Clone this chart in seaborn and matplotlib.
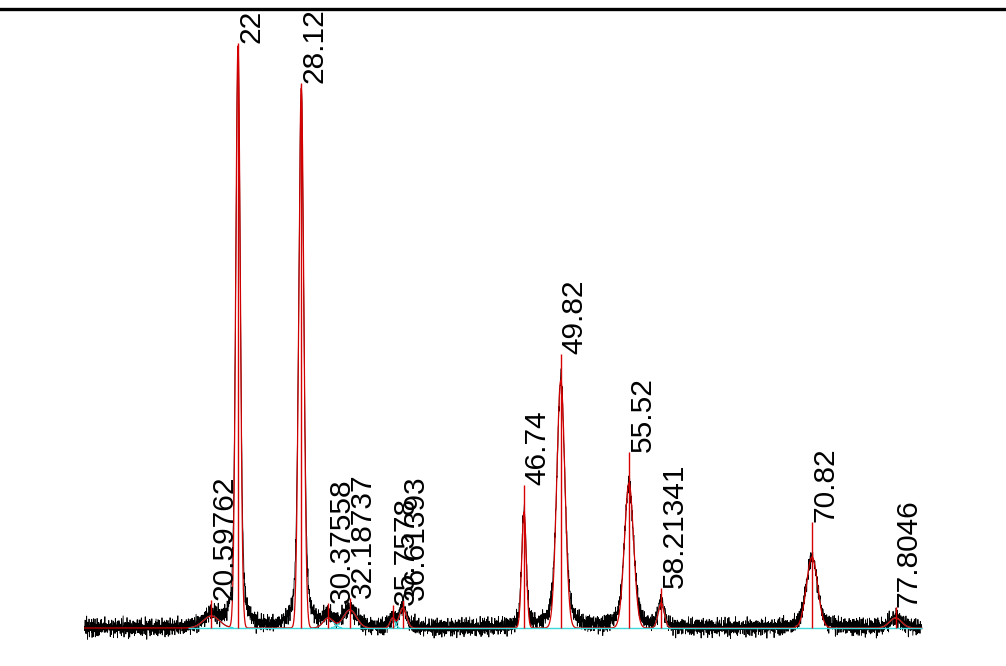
import numpy as np
import pandas as pd
import matplotlib
matplotlib.use("Agg")
import matplotlib.pyplot as plt
import seaborn as sns

# scan range (2theta, degrees) and step of the measurement grid
scan_start, scan_end, scan_step = 10.0, 80.0, 0.025
baseline_start = 18.65

# fitted peaks
peak_pos = [20.59762, 22.83, 28.12, 30.37558, 32.18737, 35.7578, 36.61393,
            46.74, 49.82, 55.52, 58.21341, 70.82, 77.8046]
peak_labels = ["20.59762", "22", "28.12", "30.37558", "32.18737", "35.7578",
               "36.61393", "46.74", "49.82", "55.52", "58.21341", "70.82", "77.8046"]
stick_heights = [28, 585, 545, 25, 30, 23, 28, 143, 274, 176, 40, 106, 21]
fit_heights = [12, 582, 540, 10, 18, 10, 20, 116, 248, 145, 25, 71, 10]
fit_fwhm = [1.6, 0.45, 0.5, 1.0, 1.3, 0.5, 0.7, 0.45, 0.8, 0.9, 0.6, 1.1, 1.2]

# residual (noise) of the measured trace, estimated by eye
residual_a = [3, -5, 7, -2, 0, -6, 4, 9, -3, 1, -8, 5, -1, 2, -4, 6, -7, 0, 3, -2,
              8, -5, 1, -3, 5, -9, 2, 4, -1, -6, 7, 0, -4, 3, -2, 6, -7, 1, 5, -3,
              0, -5, 8, -1, 2, -6, 4, -2, 3, -8, 6, 1, -4, 0, 5, -3, 7, -1, -5, 2, -2]
residual_b = [-2, 3, 1, -4, 2, 0, -3, 4, -1, 2, -5, 1, 3, -2, 0, 4, -3, 1, -1, 2,
              -4, 3, 0, -2, 5, -1, -3, 2, 1, -4, 3, -2, 0, 2, -1, 4, -3, 1, -2, 0,
              3, -4, 2, -1, 1, -3, 2]

x = np.arange(scan_start, scan_end + scan_step / 2, scan_step)


def gauss(t, c, h, w):
    s = w / 2.3548
    return h * np.exp(-0.5 * ((t - c) / s) ** 2)


def lorentz(t, c, h, w):
    return h / (1 + ((t - c) / (w / 2)) ** 2)


components = [gauss(x, c, h, w) for c, h, w in zip(peak_pos, fit_heights, fit_fwhm)]
fit = np.sum(components, axis=0)
noise = np.resize(residual_a, x.size) + np.resize(residual_b, x.size) * 0.7
observed = np.sum([0.55 * gauss(x, c, h, w) + 0.45 * lorentz(x, c, h, w)
                   for c, h, w in zip(peak_pos, fit_heights, fit_fwhm)], axis=0) + noise

df = pd.DataFrame({"two_theta": x, "observed": observed, "fit": fit})

sns.set_style("white")
plt.rcParams["font.family"] = ["Liberation Sans", "DejaVu Sans"]

fig = plt.figure(figsize=(10.06, 6.66), dpi=100)
ax = fig.add_axes([0, 0, 1, 0.9872])

sns.lineplot(data=df, x="two_theta", y="observed", ax=ax, color="black",
             linewidth=0.6, estimator=None, sort=False)

# cyan component curves for the small overlapping peaks
for comp, h in zip(components, fit_heights):
    if h < 50:
        mask = comp > 0.3
        sns.lineplot(x=x[mask], y=comp[mask], ax=ax, color="#3cd8dc",
                     linewidth=0.9, estimator=None, sort=False)

sns.lineplot(data=df, x="two_theta", y="fit", ax=ax, color="#d00000",
             linewidth=0.9, estimator=None, sort=False)
ax.hlines(0, baseline_start, scan_end, color="#3cd8dc", linewidth=1.0)
ax.vlines(peak_pos, 0, stick_heights, color="#d80000", linewidth=1.0)

for pos, h, lab in zip(peak_pos, stick_heights, peak_labels):
    ax.text(pos - 0.05, h, lab, rotation=90, ha="left", va="bottom",
            fontsize=21.5, color="black", clip_on=False)

ax.set_xlim(2.93, 87.04)
ax.set_ylim(-38, 619.5)
ax.set_xticks([])
ax.set_yticks([])
ax.set_xlabel("")
ax.set_ylabel("")
for side in ["left", "right", "bottom"]:
    ax.spines[side].set_visible(False)
ax.spines["top"].set_linewidth(2.4)
ax.spines["top"].set_color("black")

fig.savefig("out.png", dpi=100)
